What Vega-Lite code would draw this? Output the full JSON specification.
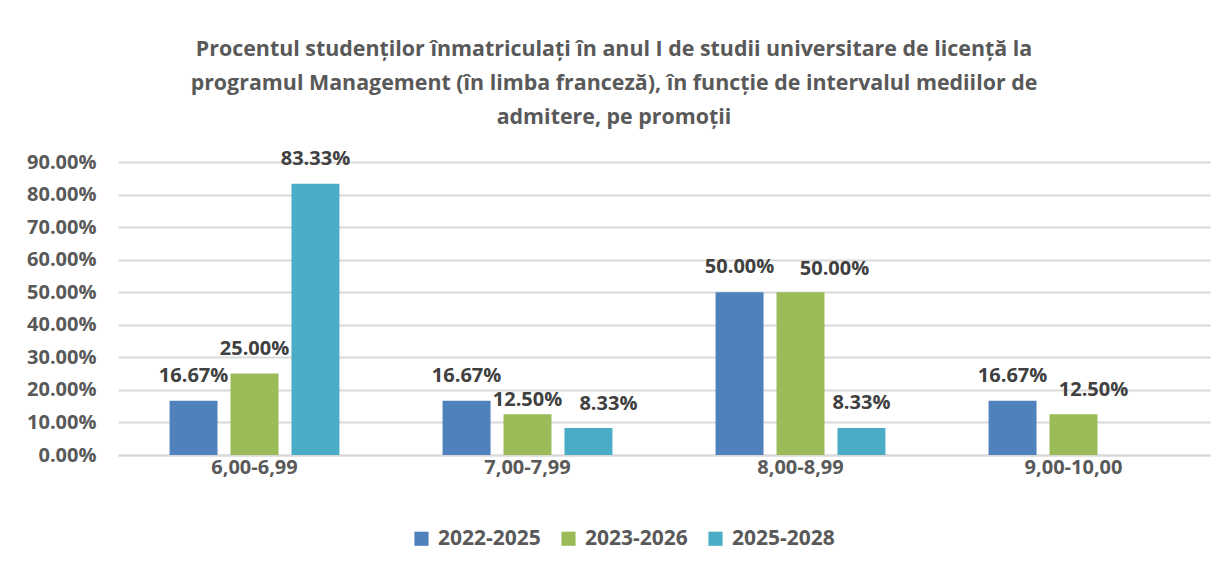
{
  "$schema": "https://vega.github.io/schema/vega-lite/v6.json",
  "width": 1092,
  "height": 293,
  "autosize": {"type": "none"},
  "padding": {"left": 118, "top": 162, "right": 17, "bottom": 117},
  "background": "white",
  "title": {
    "text": ["Procentul studenților înmatriculați în anul I de studii universitare de licență la", "programul Management (în limba franceză), în funcție de intervalul mediilor de", "admitere, pe promoții"],
    "anchor": "middle",
    "dx": -50,
    "offset": 20,
    "font": "Open Sans",
    "fontSize": 21.4,
    "fontWeight": "bold",
    "color": "#595959",
    "lineHeight": 34
  },
  "data": {
    "values": [
      {"interval": "6,00-6,99", "promotie": "2022-2025", "procent": 0.1667},
      {"interval": "6,00-6,99", "promotie": "2023-2026", "procent": 0.25},
      {"interval": "6,00-6,99", "promotie": "2025-2028", "procent": 0.8333},
      {"interval": "7,00-7,99", "promotie": "2022-2025", "procent": 0.1667},
      {"interval": "7,00-7,99", "promotie": "2023-2026", "procent": 0.125},
      {"interval": "7,00-7,99", "promotie": "2025-2028", "procent": 0.0833},
      {"interval": "8,00-8,99", "promotie": "2022-2025", "procent": 0.5},
      {"interval": "8,00-8,99", "promotie": "2023-2026", "procent": 0.5},
      {"interval": "8,00-8,99", "promotie": "2025-2028", "procent": 0.0833},
      {"interval": "9,00-10,00", "promotie": "2022-2025", "procent": 0.1667},
      {"interval": "9,00-10,00", "promotie": "2023-2026", "procent": 0.125}
    ]
  },
  "encoding": {
    "x": {
      "field": "interval",
      "type": "nominal",
      "sort": null,
      "scale": {"paddingInner": 0.33, "paddingOuter": 0.165},
      "axis": {"title": null, "labelAngle": 0, "ticks": false, "domain": true, "domainColor": "#d9d9d9", "domainWidth": 2, "labelPadding": 2, "labelFontSize": 20}
    },
    "xOffset": {
      "field": "promotie",
      "type": "nominal",
      "scale": {"paddingInner": 0.213, "paddingOuter": 0.107}
    },
    "y": {
      "field": "procent",
      "type": "quantitative",
      "scale": {"domain": [0, 0.9], "nice": false},
      "axis": {"title": null, "format": ".2%", "values": [0, 0.1, 0.2, 0.3, 0.4, 0.5, 0.6, 0.7, 0.8, 0.9], "labelOverlap": false, "ticks": false, "domain": false, "gridColor": "#d9d9d9", "gridWidth": 2, "labelPadding": 22, "labelFontSize": 20}
    },
    "text": {"field": "procent", "type": "quantitative", "format": ".2%"}
  },
  "layer": [
    {
      "mark": {"type": "bar"},
      "encoding": {
        "text": null,
        "color": {
          "field": "promotie",
          "type": "nominal",
          "scale": {"domain": ["2022-2025", "2023-2026", "2025-2028"], "range": ["#4F81BD", "#9BBB59", "#4BACC6"]},
          "legend": {
            "title": null,
            "orient": "none",
            "direction": "horizontal",
            "legendX": 293,
            "legendY": 366,
            "symbolType": "square",
            "symbolSize": 200,
            "symbolStrokeWidth": 0,
            "labelFontSize": 21,
            "labelFont": "Open Sans",
            "labelFontWeight": "bold",
            "labelColor": "#595959",
            "labelOffset": 6,
            "columnPadding": 17
          }
        }
      }
    },
    {
      "transform": [{"filter": "!((datum.interval == '7,00-7,99' && datum.promotie != '2022-2025') || (datum.interval == '8,00-8,99' && datum.promotie == '2023-2026') || (datum.interval == '9,00-10,00' && datum.promotie == '2023-2026'))"}],
      "mark": {"type": "text", "baseline": "middle", "dy": -25, "font": "Open Sans", "fontSize": 20, "fontWeight": "bold", "color": "#404040"}
    },
    {
      "transform": [{"filter": "datum.interval == '7,00-7,99' && datum.promotie == '2023-2026'"}],
      "mark": {"type": "text", "baseline": "middle", "dy": -14, "font": "Open Sans", "fontSize": 20, "fontWeight": "bold", "color": "#404040"}
    },
    {
      "transform": [{"filter": "(datum.interval == '7,00-7,99' && datum.promotie == '2025-2028') || (datum.interval == '9,00-10,00' && datum.promotie == '2023-2026')"}],
      "mark": {"type": "text", "baseline": "middle", "dx": 20, "dy": -24, "font": "Open Sans", "fontSize": 20, "fontWeight": "bold", "color": "#404040"}
    },
    {
      "transform": [{"filter": "datum.interval == '8,00-8,99' && datum.promotie == '2023-2026'"}],
      "mark": {"type": "text", "baseline": "middle", "dx": 34, "dy": -23, "font": "Open Sans", "fontSize": 20, "fontWeight": "bold", "color": "#404040"}
    }
  ],
  "config": {
    "view": {"stroke": null},
    "axis": {"labelFont": "Open Sans", "labelFontWeight": "bold", "labelColor": "#595959"}
  }
}
